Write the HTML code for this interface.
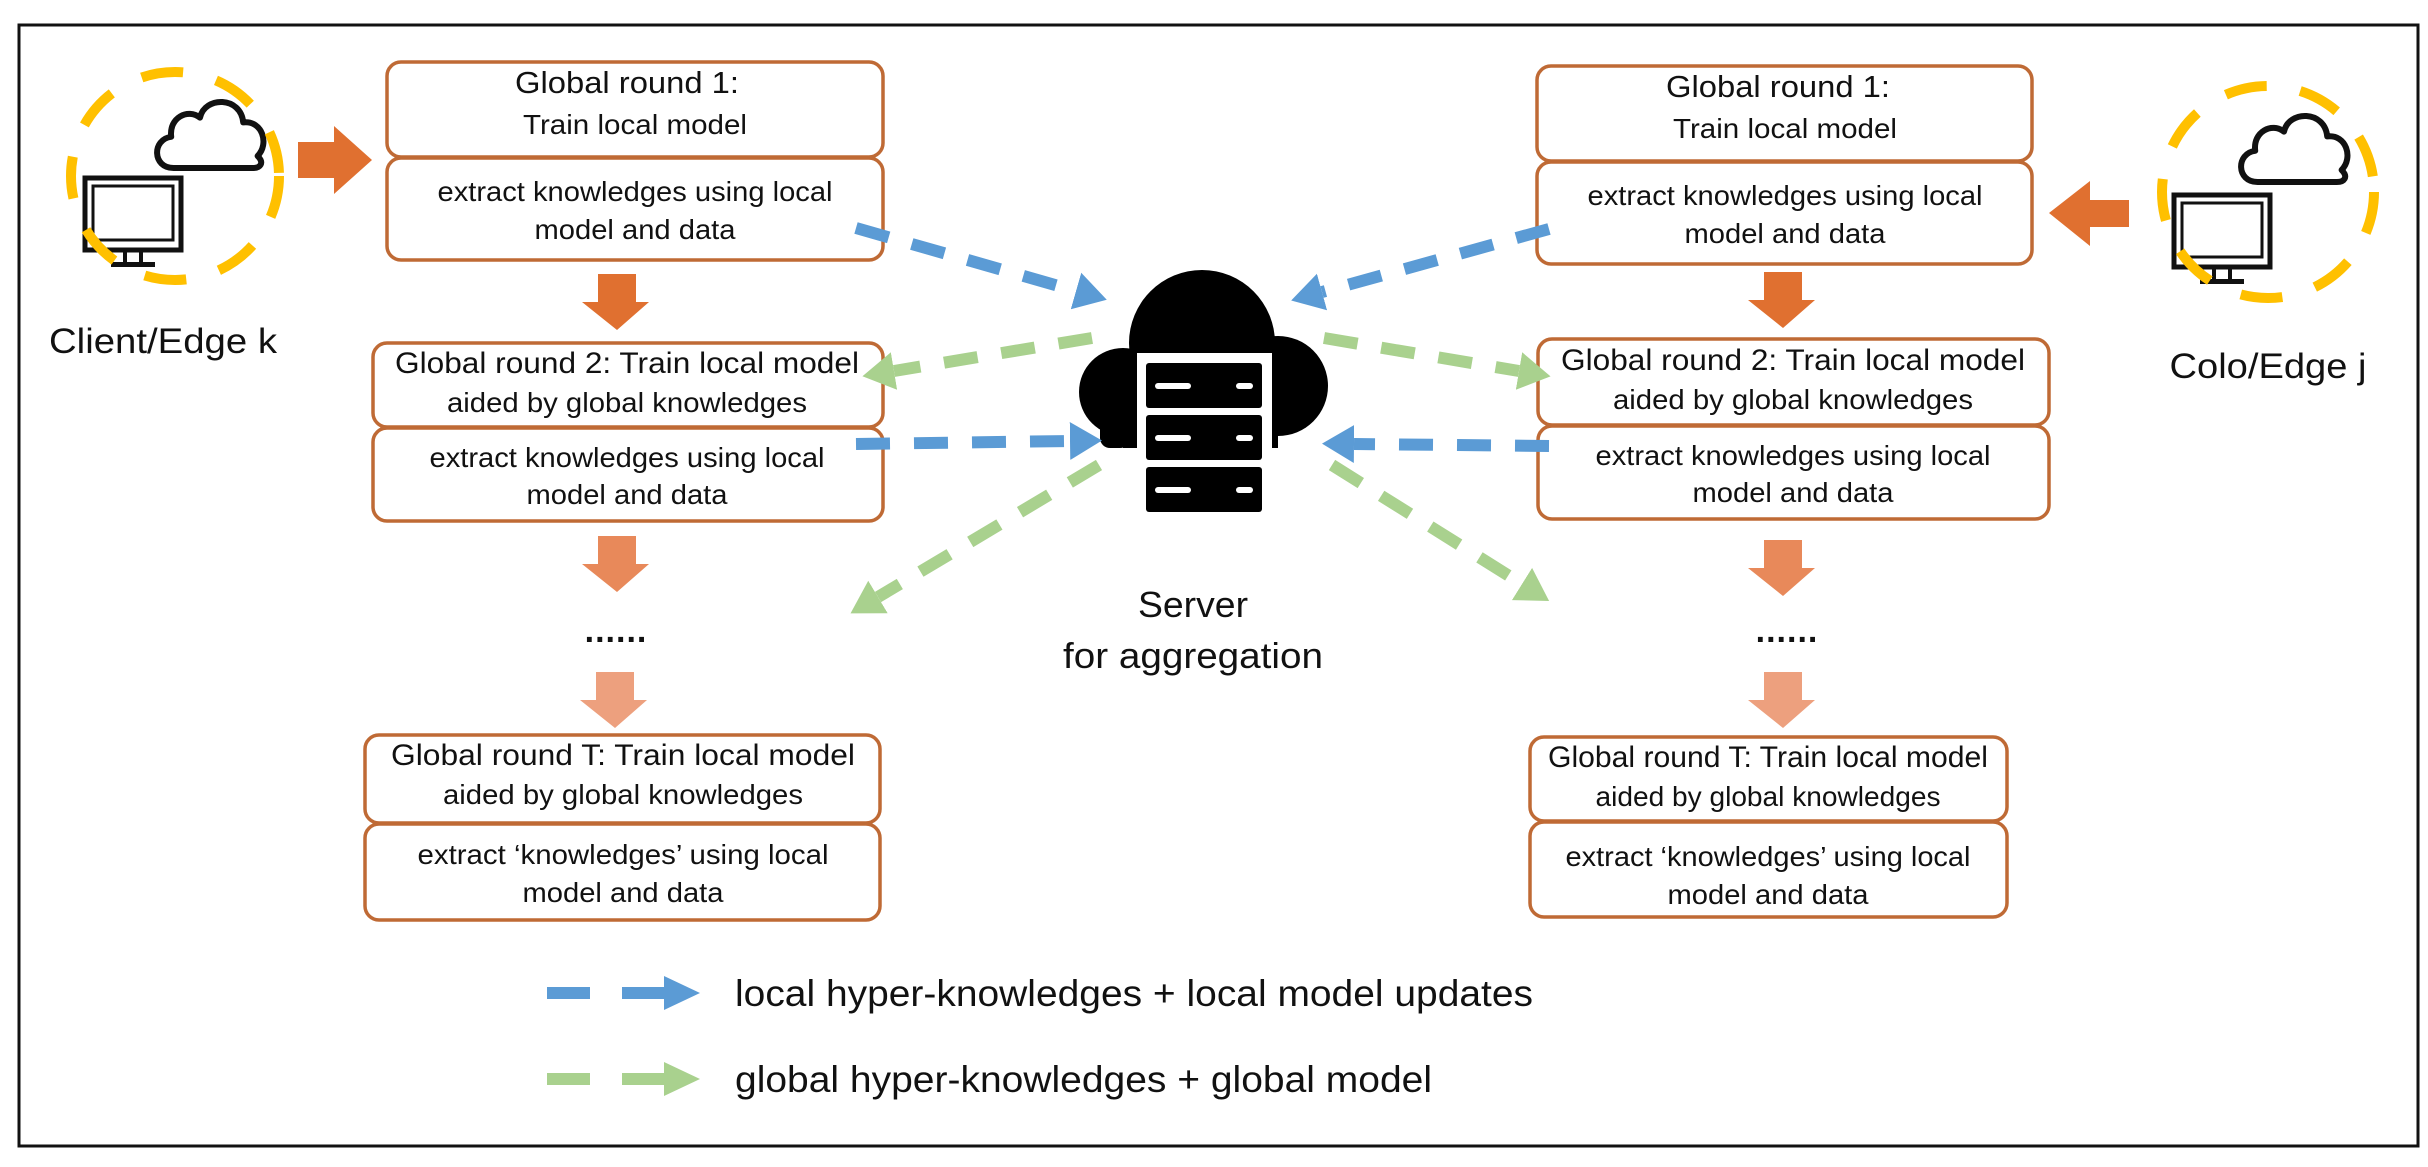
<!DOCTYPE html>
<html><head><meta charset="utf-8"><style>
html,body{margin:0;padding:0;background:#fff;}
svg{display:block;}
text{font-family:"Liberation Sans",sans-serif;fill:#111;}
</style></head><body>
<svg width="2428" height="1167" viewBox="0 0 2428 1167" xmlns="http://www.w3.org/2000/svg">
<defs>
<marker id="mb" markerUnits="userSpaceOnUse" markerWidth="40" markerHeight="44" viewBox="0 -22 40 44" refX="0" refY="0" orient="auto"><path d="M0,-19 L32,0 L0,19 z" fill="#5B9BD5"/></marker>
<marker id="mg" markerUnits="userSpaceOnUse" markerWidth="40" markerHeight="44" viewBox="0 -22 40 44" refX="0" refY="0" orient="auto"><path d="M0,-19 L32,0 L0,19 z" fill="#A9D18E"/></marker>
<g id="cloudicon"><path d="M18,60 C0,60 0,36 16,34 C14,18 30,10 40,18 C44,0 74,0 76,22 C92,20 98,40 88,50 C94,56 90,60 84,60 Z" fill="#fff" stroke="#111" stroke-width="5" stroke-linejoin="round"/></g>
<g id="moni"><rect x="0" y="0" width="96" height="72" fill="#fff" stroke="#111" stroke-width="5"/><rect x="8" y="8" width="80" height="54" fill="none" stroke="#111" stroke-width="3"/><rect x="40" y="72" width="16" height="14" fill="none" stroke="#111" stroke-width="4"/><rect x="26" y="84" width="44" height="5" fill="#111"/></g>
<path id="darrow" d="M16,0 H54 V28 H67 L35,56 L0,28 H16 Z"/>
</defs>
<rect x="19" y="25" width="2399" height="1121" fill="none" stroke="#111" stroke-width="3"/>

<use href="#cloudicon" transform="translate(152,96) scale(1.2)"/>
<use href="#moni" x="85" y="178"/>
<circle cx="175" cy="176" r="104" fill="none" stroke="#FFC000" stroke-width="10" stroke-dasharray="42 34"/>
<path d="M298,142 H334 V126 L372,160 L334,194 V178 H298 Z" fill="#E07030"/>
<text x="163" y="353" font-size="35" text-anchor="middle" textLength="228" lengthAdjust="spacingAndGlyphs">Client/Edge k</text>

<use href="#cloudicon" transform="translate(2236,110) scale(1.2)"/>
<use href="#moni" x="2174" y="195"/>
<circle cx="2268" cy="192" r="106" fill="none" stroke="#FFC000" stroke-width="10" stroke-dasharray="42 34"/>
<path d="M2129,200 H2090 V181 L2049,213 L2090,246 V227 H2129 Z" fill="#E07030"/>
<text x="2268" y="378" font-size="35" text-anchor="middle" textLength="197" lengthAdjust="spacingAndGlyphs">Colo/Edge j</text>

<g fill="#fff" stroke="#BF6A35" stroke-width="3.5">
<rect x="387" y="62" width="496" height="95" rx="14"/>
<rect x="387" y="158" width="496" height="102" rx="14"/>
<rect x="373" y="343" width="510" height="84" rx="14"/>
<rect x="373" y="428" width="510" height="93" rx="14"/>
<rect x="365" y="735" width="515" height="88" rx="14"/>
<rect x="365" y="824" width="515" height="96" rx="14"/>
<rect x="1537" y="66" width="495" height="95" rx="14"/>
<rect x="1537" y="162" width="495" height="102" rx="14"/>
<rect x="1538" y="339" width="511" height="86" rx="14"/>
<rect x="1538" y="426" width="511" height="93" rx="14"/>
<rect x="1530" y="737" width="477" height="84" rx="14"/>
<rect x="1530" y="822" width="477" height="95" rx="14"/>
</g>

<g font-size="28" text-anchor="middle">
<text x="627" y="93" font-size="31" textLength="224" lengthAdjust="spacingAndGlyphs">Global round 1:</text>
<text x="635" y="134" textLength="224" lengthAdjust="spacingAndGlyphs">Train local model</text>
<text x="635" y="201" textLength="395" lengthAdjust="spacingAndGlyphs">extract knowledges using local</text>
<text x="635" y="239" textLength="201" lengthAdjust="spacingAndGlyphs">model and data</text>
<text x="627" y="373" font-size="30" textLength="464" lengthAdjust="spacingAndGlyphs">Global round 2:  Train local model</text>
<text x="627" y="412" textLength="360" lengthAdjust="spacingAndGlyphs">aided by global knowledges</text>
<text x="627" y="467" textLength="395" lengthAdjust="spacingAndGlyphs">extract knowledges using local</text>
<text x="627" y="504" textLength="201" lengthAdjust="spacingAndGlyphs">model and data</text>
<text x="623" y="765" font-size="30" textLength="464" lengthAdjust="spacingAndGlyphs">Global round T:  Train local model</text>
<text x="623" y="804" textLength="360" lengthAdjust="spacingAndGlyphs">aided by global knowledges</text>
<text x="623" y="864" textLength="411" lengthAdjust="spacingAndGlyphs">extract ‘knowledges’ using local</text>
<text x="623" y="902" textLength="201" lengthAdjust="spacingAndGlyphs">model and data</text>

<text x="1778" y="97" font-size="31" textLength="224" lengthAdjust="spacingAndGlyphs">Global round 1:</text>
<text x="1785" y="138" textLength="224" lengthAdjust="spacingAndGlyphs">Train local model</text>
<text x="1785" y="205" textLength="395" lengthAdjust="spacingAndGlyphs">extract knowledges using local</text>
<text x="1785" y="243" textLength="201" lengthAdjust="spacingAndGlyphs">model and data</text>
<text x="1793" y="370" font-size="30" textLength="464" lengthAdjust="spacingAndGlyphs">Global round 2:  Train local model</text>
<text x="1793" y="409" textLength="360" lengthAdjust="spacingAndGlyphs">aided by global knowledges</text>
<text x="1793" y="465" textLength="395" lengthAdjust="spacingAndGlyphs">extract knowledges using local</text>
<text x="1793" y="502" textLength="201" lengthAdjust="spacingAndGlyphs">model and data</text>
<text x="1768" y="767" font-size="30" textLength="440" lengthAdjust="spacingAndGlyphs">Global round T:  Train local model</text>
<text x="1768" y="806" textLength="345" lengthAdjust="spacingAndGlyphs">aided by global knowledges</text>
<text x="1768" y="866" textLength="405" lengthAdjust="spacingAndGlyphs">extract ‘knowledges’ using local</text>
<text x="1768" y="904" textLength="201" lengthAdjust="spacingAndGlyphs">model and data</text>
</g>

<use href="#darrow" x="582" y="274" fill="#E07030"/>
<use href="#darrow" x="582" y="536" fill="#E8895A"/>
<use href="#darrow" x="580" y="672" fill="#EDA07E"/>
<use href="#darrow" x="1748" y="272" fill="#E07030"/>
<use href="#darrow" x="1748" y="540" fill="#E8895A"/>
<use href="#darrow" x="1748" y="672" fill="#EDA07E"/>
<text x="616" y="642" font-size="34" text-anchor="middle" font-weight="bold" letter-spacing="1">......</text>
<text x="1787" y="642" font-size="34" text-anchor="middle" font-weight="bold" letter-spacing="1">......</text>

<g fill="#000">
<circle cx="1202" cy="343" r="73"/>
<circle cx="1123" cy="392" r="44"/>
<circle cx="1278" cy="386" r="50"/>
<rect x="1123" y="370" width="155" height="78"/>
<rect x="1100" y="400" width="30" height="48" rx="10"/>
</g>
<rect x="1137" y="353" width="135" height="165" fill="#fff"/>
<g fill="#000"><rect x="1146" y="363" width="116" height="45" rx="3"/><rect x="1146" y="415" width="116" height="45" rx="3"/><rect x="1146" y="467" width="116" height="45" rx="3"/></g>
<g fill="#fff"><rect x="1155" y="383" width="36" height="6" rx="3"/><rect x="1236" y="383" width="17" height="6" rx="3"/><rect x="1155" y="435" width="36" height="6" rx="3"/><rect x="1236" y="435" width="17" height="6" rx="3"/><rect x="1155" y="487" width="36" height="6" rx="3"/><rect x="1236" y="487" width="17" height="6" rx="3"/></g>
<text x="1193" y="617" font-size="36" text-anchor="middle" textLength="110" lengthAdjust="spacingAndGlyphs">Server</text>
<text x="1193" y="668" font-size="36" text-anchor="middle" textLength="260" lengthAdjust="spacingAndGlyphs">for aggregation</text>

<g fill="none" stroke-width="12" stroke-dasharray="34 24">
<line x1="856" y1="228" x2="1076" y2="291" stroke="#5B9BD5" marker-end="url(#mb)"/>
<line x1="1549" y1="229" x2="1322" y2="292" stroke="#5B9BD5" marker-end="url(#mb)"/>
<line x1="856" y1="444" x2="1070" y2="441" stroke="#5B9BD5" marker-end="url(#mb)"/>
<line x1="1549" y1="446" x2="1354" y2="444" stroke="#5B9BD5" marker-end="url(#mb)"/>
<line x1="1092" y1="338" x2="894" y2="371" stroke="#A9D18E" marker-end="url(#mg)"/>
<line x1="1324" y1="338" x2="1519" y2="371" stroke="#A9D18E" marker-end="url(#mg)"/>
<line x1="1099" y1="465" x2="878" y2="597" stroke="#A9D18E" marker-end="url(#mg)"/>
<line x1="1332" y1="465" x2="1522" y2="584" stroke="#A9D18E" marker-end="url(#mg)"/>
</g>

<rect x="547" y="987" width="43" height="12" fill="#5B9BD5"/>
<rect x="622" y="987" width="43" height="12" fill="#5B9BD5"/>
<path d="M664,976 L700,993 L664,1010 Z" fill="#5B9BD5"/>
<text x="735" y="1006" font-size="37" textLength="798" lengthAdjust="spacingAndGlyphs">local hyper-knowledges + local model updates</text>
<rect x="547" y="1073" width="43" height="12" fill="#A9D18E"/>
<rect x="622" y="1073" width="43" height="12" fill="#A9D18E"/>
<path d="M664,1062 L700,1079 L664,1096 Z" fill="#A9D18E"/>
<text x="735" y="1092" font-size="37" textLength="697" lengthAdjust="spacingAndGlyphs">global hyper-knowledges + global model</text>
</svg>
</body></html>
